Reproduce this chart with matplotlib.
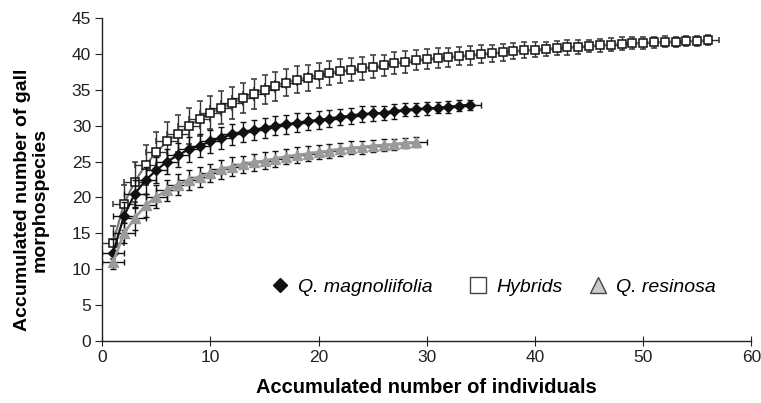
import matplotlib.pyplot as plt
from matplotlib.lines import Line2D
import numpy as np

plt.rcParams['font.family'] = ['Liberation Sans', 'DejaVu Sans']

# accumulated gall morphospecies vs accumulated individuals
hyb_y = [13.7, 19.1, 22.2, 24.5, 26.3, 27.8, 28.9, 29.9, 31.0, 31.8,
         32.5, 33.2, 33.8, 34.4, 35.0, 35.5, 36.0, 36.4, 36.7, 37.0,
         37.3, 37.6, 37.8, 38.0, 38.2, 38.4, 38.7, 38.9, 39.1, 39.3,
         39.4, 39.5, 39.7, 39.8, 40.0, 40.1, 40.2, 40.35, 40.5, 40.6,
         40.7, 40.8, 40.9, 41.0, 41.1, 41.2, 41.3, 41.4, 41.5, 41.55,
         41.6, 41.7, 41.7, 41.8, 41.8, 41.9]
hyb_err = [2.3, 2.6, 2.8, 2.8, 2.8, 2.7, 2.6, 2.5, 2.4, 2.3,
           2.3, 2.2, 2.1, 2.1, 2.0, 2.0, 1.9, 1.9, 1.8, 1.8,
           1.7, 1.7, 1.6, 1.6, 1.6, 1.5, 1.5, 1.5, 1.4, 1.4,
           1.4, 1.3, 1.3, 1.3, 1.2, 1.2, 1.2, 1.1, 1.1, 1.1,
           1.0, 1.0, 1.0, 1.0, 0.9, 0.9, 0.9, 0.9, 0.8, 0.8,
           0.8, 0.8, 0.7, 0.7, 0.7, 0.7]

mag_y = [12.3, 17.4, 20.5, 22.4, 23.8, 25.0, 25.9, 26.7, 27.2, 27.8,
         28.3, 28.8, 29.1, 29.4, 29.7, 30.0, 30.2, 30.4, 30.6, 30.8,
         31.0, 31.2, 31.4, 31.6, 31.7, 31.8, 32.0, 32.2, 32.3, 32.4,
         32.5, 32.6, 32.8, 32.9]
mag_err = [1.9, 2.0, 2.0, 1.9, 1.8, 1.8, 1.7, 1.7, 1.6, 1.6,
           1.5, 1.5, 1.4, 1.4, 1.4, 1.3, 1.3, 1.3, 1.2, 1.2,
           1.2, 1.1, 1.1, 1.1, 1.0, 1.0, 1.0, 0.9, 0.9, 0.9,
           0.8, 0.8, 0.8, 0.7]

res_y = [11.0, 15.0, 17.1, 18.9, 20.1, 21.0, 21.8, 22.4, 22.9, 23.4,
         23.9, 24.3, 24.6, 24.9, 25.1, 25.4, 25.7, 25.9, 26.1, 26.3,
         26.5, 26.7, 26.9, 27.0, 27.2, 27.3, 27.4, 27.6, 27.7]
res_err = [1.0, 1.4, 1.6, 1.6, 1.6, 1.5, 1.5, 1.4, 1.4, 1.3,
           1.3, 1.3, 1.2, 1.2, 1.2, 1.1, 1.1, 1.1, 1.0, 1.0,
           1.0, 0.9, 0.9, 0.9, 0.8, 0.8, 0.8, 0.7, 0.7]

x_err = 1.0

labels = ['Q. magnoliifolia', 'Hybrids', 'Q. resinosa']

fig = plt.figure(figsize=(7.61, 4.03), dpi=100)
ax = fig.add_axes([0.1344, 0.1538, 0.853, 0.8015])

hx = np.arange(1, len(hyb_y) + 1)
mx = np.arange(1, len(mag_y) + 1)
rx = np.arange(1, len(res_y) + 1)

ax.errorbar(hx, hyb_y, yerr=hyb_err, xerr=x_err, fmt='-', color='#7a7a7a', lw=1.6,
            marker='s', ms=5.8, mfc='white', mec='#111111', mew=1.1,
            ecolor='#333333', elinewidth=1.0, capsize=2.5, capthick=1.0, zorder=3)
ax.errorbar(mx, mag_y, yerr=mag_err, xerr=x_err, fmt='-', color='#111111', lw=1.6,
            marker='D', ms=4.8, mfc='#111111', mec='#111111',
            ecolor='#111111', elinewidth=1.0, capsize=2.5, capthick=1.0, zorder=4)
ax.errorbar(rx, res_y, yerr=res_err, xerr=x_err, fmt='-', color='#9a9a9a', lw=2.0,
            marker='^', ms=6.8, mfc='#9a9a9a', mec='#9a9a9a',
            ecolor='#111111', elinewidth=1.0, capsize=2.5, capthick=1.0, zorder=5)

ax.set_xlim(0, 60)
ax.set_ylim(0, 45)
ax.set_xticks(range(0, 61, 10))
ax.set_yticks(range(0, 46, 5))
for s in ['top', 'right']:
    ax.spines[s].set_visible(False)
for s in ['left', 'bottom']:
    ax.spines[s].set_linewidth(1.0)
    ax.spines[s].set_color('#222222')
ax.tick_params(axis='x', direction='inout', length=7, labelsize=12.5, pad=3)
ax.tick_params(axis='y', direction='out', length=5, labelsize=12.5, pad=3)
ax.tick_params(colors='#222222')

ax.set_xlabel('Accumulated number of individuals', fontsize=14.5, fontweight='bold')
ax.xaxis.set_label_coords(0.5, -0.115)
ax.set_ylabel('Accumulated number of gall\nmorphospecies', fontsize=14,
              fontweight='bold', linespacing=1.05)
ax.yaxis.set_label_coords(-0.083, 0.437)

# one legend per entry so the entries sit where they do in the original
handles = [
    Line2D([], [], ls='none', marker='D', ms=7.5, mfc='#111111', mec='#111111'),
    Line2D([], [], ls='none', marker='s', ms=12, mfc='white', mec='#444444', mew=1),
    Line2D([], [], ls='none', marker='^', ms=12, mfc='#cccccc', mec='#444444', mew=1),
]
lefts = [0.3526, 0.6134, 0.7711]
for h, lab, xl in zip(handles, labels, lefts):
    fig.legend([h], [lab], loc='center left', bbox_to_anchor=(xl, 0.2878),
               frameon=False, prop={'style': 'italic', 'size': 14},
               handlelength=1.2, handletextpad=0.32, borderpad=0, borderaxespad=0)

fig.savefig('out.png', dpi=100)
